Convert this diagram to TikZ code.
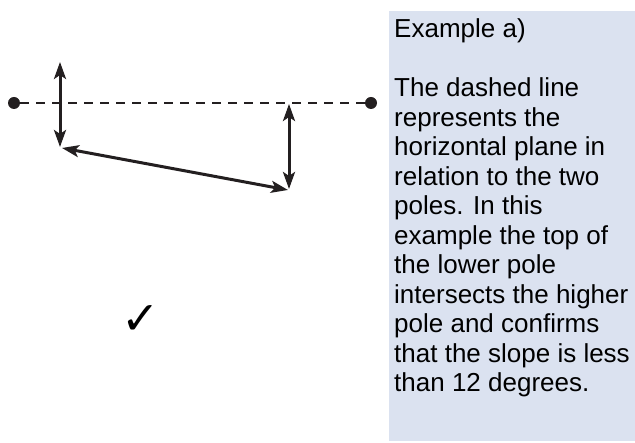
\documentclass[tikz,border=0pt]{standalone}
\usepackage{fontspec}
\setmainfont{Liberation Sans}
\newfontfamily\symfont{DejaVu Sans}
\usetikzlibrary{arrows.meta}
\definecolor{panelblue}{HTML}{DBE2F0}
\definecolor{ink}{HTML}{231F20}
\begin{document}
\begin{tikzpicture}[x=1pt,y=1pt,
  dot/.style={circle,fill=ink,inner sep=0pt,minimum size=12pt},
  pole/.style={ink,line width=3pt,{Stealth[length=17pt,width=12pt,inset=4pt]}-{Stealth[length=17pt,width=12pt,inset=4pt]}},
  plane/.style={ink,line width=2.4pt,dash pattern=on 9pt off 7pt},
  txt/.style={anchor=base west,inner sep=0pt,font=\fontsize{26}{29.5}\selectfont}]
\useasboundingbox (0,0) rectangle (635,443);
\fill[panelblue] (389,2) rectangle (635,432);
% dashed horizontal plane
\node[dot] (d1) at (14,340) {};
\node[dot] (d2) at (371,340) {};
\draw[plane] (d1) -- (d2);
% poles and slope
\coordinate (a1) at (60,381);
\coordinate (a2) at (60,296);
\coordinate (b1) at (62,295);
\coordinate (b2) at (288,253);
\coordinate (c1) at (289,339);
\coordinate (c2) at (289,254);
\draw[pole] (a1) -- (a2);
\draw[pole] (b1) -- (b2);
\draw[pole] (c1) -- (c2);
\node[font=\symfont\bfseries\fontsize{46}{46}\selectfont,inner sep=0pt] (check) at (141,123) {✓};
% text
\node[txt] (t0) at (394,405) {Example a)};
\node[txt] (t1) at (394,346) {The dashed line};
\node[txt] (t2) at (394,316.5) {represents the};
\node[txt] (t3) at (394,287) {horizontal plane in};
\node[txt] (t4) at (394,257.5) {relation to the two};
\node[txt] (t5) at (394,228) {poles. In this};
\node[txt] (t6) at (394,198.5) {example the top of};
\node[txt] (t7) at (394,169) {the lower pole};
\node[txt] (t8) at (394,139.5) {intersects the higher};
\node[txt] (t9) at (394,110) {pole and confirms};
\node[txt] (t10) at (394,80.5) {that the slope is less};
\node[txt] (t11) at (394,51) {than 12 degrees.};
\end{tikzpicture}
\end{document}
